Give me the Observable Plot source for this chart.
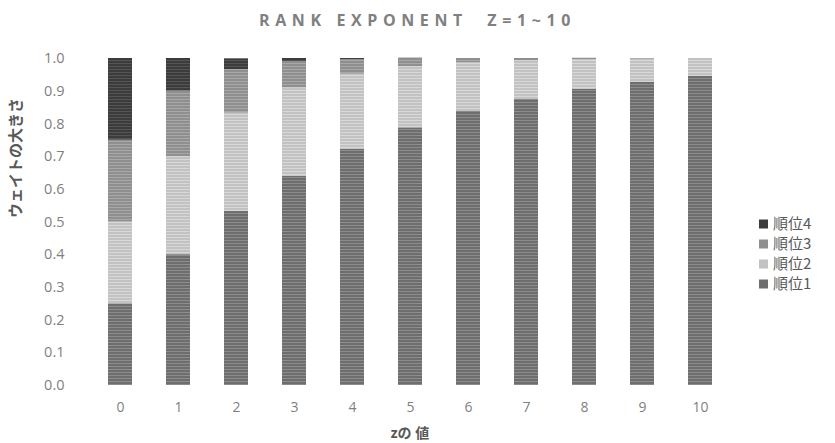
<!DOCTYPE html>
<html><head><meta charset="utf-8">
<script src="https://cdn.jsdelivr.net/npm/d3@7"></script>
<script src="https://cdn.jsdelivr.net/npm/@observablehq/plot@0.6"></script>
<style>
body{margin:0;background:#fff;font-family:"Open Sans","Noto Sans CJK JP",sans-serif;}
#wrap{position:relative;width:835px;height:443px;overflow:hidden;}
#title{position:absolute;left:0;width:835px;top:9px;text-align:center;font:bold 16px "Open Sans","Noto Sans CJK JP",sans-serif;letter-spacing:5.6px;color:#808080;white-space:pre;}
</style></head><body>
<div id="wrap"><div id="title">RANK EXPONENT  Z=1~10</div></div>
<script>
const zValues = [0,1,2,3,4,5,6,7,8,9,10];
const seriesNames = ["順位1","順位2","順位3","順位4"];
const rank1 = [0.25,0.40,0.533,0.64,0.723,0.788,0.838,0.876,0.906,0.928,0.946];
const rank2 = [0.25,0.30,0.300,0.27,0.229,0.187,0.149,0.117,0.091,0.070,0.053];
const rank3 = [0.25,0.20,0.133,0.08,0.045,0.025,0.013,0.007,0.004,0.002,0.001];
const rank4 = [0.25,0.10,0.033,0.01,0.003,0.001,0.000,0.000,0.000,0.000,0.000];
const yTicks = [0,0.1,0.2,0.3,0.4,0.5,0.6,0.7,0.8,0.9,1.0];

const seriesValues = [rank1, rank2, rank3, rank4];
const baseColors = ["#6e6e6e","#c2c2c2","#8f8f8f","#3c3c3c"];
const lineColors = ["#8c8c8c","#d8d8d8","#a8a8a8","#555555"];
const patIds = ["pat1","pat2","pat3","pat4"];

const data = [];
zValues.forEach((z,i)=>{
  seriesValues.forEach((vals,s)=>{ data.push({z:String(z), series:seriesNames[s], v:vals[i]}); });
});

const chart = Plot.plot({
  width:835, height:443,
  marginLeft:88, marginRight:104, marginTop:58, marginBottom:58,
  style:{fontFamily:'"Open Sans","Noto Sans CJK JP",sans-serif', fontSize:"14px", color:"#7f7f7f", background:"#fff"},
  x:{domain:zValues.map(String), paddingInner:0.59, paddingOuter:0.295, label:null},
  y:{domain:[0,1], label:null},
  color:{domain:seriesNames, range:patIds.map(p=>`url(#${p})`)},
  marks:[
    Plot.gridY(yTicks, {stroke:"#d9d9d9", strokeOpacity:1, x1:88, x2:736}),
    Plot.barY(data, {x:"z", y:"v", fill:"series", order:seriesNames}),
    Plot.axisX({tickSize:0, tickPadding:17, label:null, fontSize:14, fill:"#7f7f7f"}),
    Plot.axisY({ticks:yTicks, tickFormat:d3.format(".1f"), tickSize:0, tickPadding:24, label:null, fontSize:14.5, fill:"#7f7f7f"}),
    Plot.text(["zの 値"], {frameAnchor:"bottom", dy:52, fontWeight:"bold", fontSize:14, fill:"#595959"}),
    Plot.text(["ウェイトの大きさ"], {frameAnchor:"left", dx:-72, dy:-4, rotate:-90, fontWeight:"bold", fontSize:15, fill:"#595959"})
  ]
});

// stripe patterns
const ns = "http://www.w3.org/2000/svg";
const defs = document.createElementNS(ns,"defs");
patIds.forEach((id,i)=>{
  const p = document.createElementNS(ns,"pattern");
  p.setAttribute("id",id); p.setAttribute("patternUnits","userSpaceOnUse");
  p.setAttribute("width","6"); p.setAttribute("height","3");
  const r1 = document.createElementNS(ns,"rect");
  r1.setAttribute("width","6"); r1.setAttribute("height","3"); r1.setAttribute("fill",baseColors[i]);
  const r2 = document.createElementNS(ns,"rect");
  r2.setAttribute("width","6"); r2.setAttribute("height","1"); r2.setAttribute("fill",lineColors[i]);
  p.appendChild(r1); p.appendChild(r2); defs.appendChild(p);
});
chart.insertBefore(defs, chart.firstChild);
const wrap = document.getElementById("wrap");
wrap.insertBefore(chart, wrap.firstChild);
chart.style.position="absolute"; chart.style.left="0"; chart.style.top="0";

// legend (inside the chart svg)
const lg = d3.select(chart).append("g")
  .attr("font-family",'"Noto Sans CJK JP",sans-serif').attr("font-size",15)
  .attr("fill","#595959").attr("text-anchor","start");
[3,2,1,0].forEach((i,k)=>{
  const y = 224 + k*20;
  lg.append("rect").attr("x",759).attr("y",y-4.5).attr("width",9).attr("height",9)
    .attr("fill",baseColors[i]).attr("stroke","none");
  lg.append("text").attr("x",773).attr("y",y).attr("dy","0.35em").text(seriesNames[i]);
});
</script></body></html>
